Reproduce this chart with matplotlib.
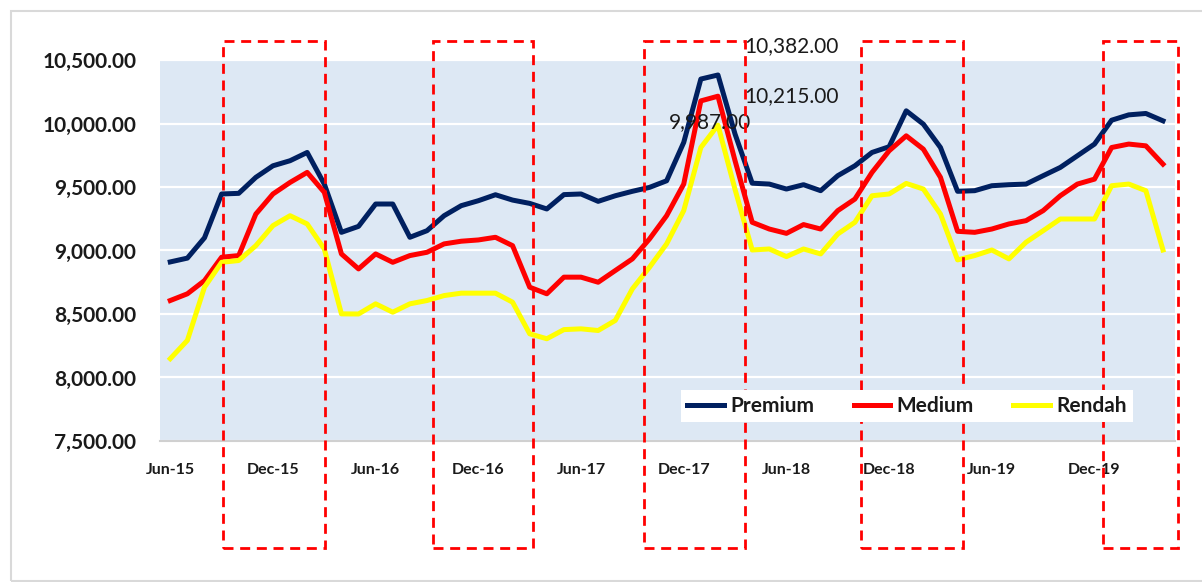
import numpy as np
import matplotlib.pyplot as plt
from matplotlib.patches import Rectangle
import matplotlib.transforms as mtransforms

plt.rcParams['font.family'] = ['Lato', 'DejaVu Sans']

# monthly prices, Jun-15 .. Apr-20
premium = [8910, 8940, 9100, 9445, 9450, 9576, 9667, 9707, 9772, 9523,
           9143, 9190, 9366, 9366, 9104, 9156, 9274, 9353, 9392, 9439,
           9397, 9371, 9327, 9440, 9445, 9387, 9431, 9466, 9497, 9549,
           9851, 10350, 10382, 9916, 9530, 9523, 9484, 9518, 9471, 9589,
           9667, 9772, 9817, 10100, 9995, 9811, 9466, 9471, 9510, 9518,
           9523, 9589, 9654, 9746, 9838, 10026, 10068, 10079, 10021]
medium = [8606, 8659, 8763, 8947, 8960, 9287, 9445, 9536, 9615, 9458,
          8973, 8855, 8973, 8907, 8960, 8986, 9052, 9073, 9083, 9104,
          9038, 8711, 8659, 8790, 8790, 8750, 8842, 8934, 9091, 9274,
          9523, 10178, 10215, 9706, 9222, 9169, 9135, 9204, 9169, 9314,
          9405, 9615, 9785, 9903, 9798, 9576, 9151, 9143, 9169, 9209,
          9235, 9314, 9431, 9523, 9562, 9811, 9838, 9824, 9680]
rendah = [8148, 8292, 8711, 8907, 8921, 9038, 9196, 9274, 9209, 9012,
          8501, 8500, 8580, 8514, 8580, 8606, 8645, 8664, 8664, 8664,
          8593, 8344, 8305, 8377, 8383, 8370, 8449, 8698, 8868, 9052,
          9314, 9811, 9987, 9480, 9004, 9012, 8952, 9012, 8973, 9130,
          9222, 9431, 9445, 9528, 9484, 9287, 8926, 8960, 9004, 8934,
          9065, 9156, 9248, 9248, 9248, 9510, 9523, 9471, 9004]

tick_labels = ['Jun-15', 'Dec-15', 'Jun-16', 'Dec-16', 'Jun-17',
               'Dec-17', 'Jun-18', 'Dec-18', 'Jun-19', 'Dec-19']
# highlighted periods (month index range) around each year end
highlights = [(3.1, 9.05), (15.36, 21.2), (27.7, 33.6), (40.36, 46.3), (54.5, 58.9)]

x = np.arange(len(premium))

fig = plt.figure(figsize=(12.02, 5.82), dpi=100)
ax = fig.add_axes([0.1331, 0.2423, 0.8444, 0.6546])
ax.set_facecolor('#dde8f4')

# light outer frame of the chart
fig.patches.append(Rectangle((11 / 1202, 0.002), 1.2, 1 - 11 / 582 - 0.002,
                             transform=fig.transFigure, fill=False,
                             edgecolor='#d9d9d9', linewidth=1.5))

ax.plot(x, premium, color='#002060', lw=3.6, label='Premium', solid_joinstyle='round')
ax.plot(x, medium, color='#ff0000', lw=3.6, label='Medium', solid_joinstyle='round')
ax.plot(x, rendah, color='#ffff00', lw=3.6, label='Rendah', solid_joinstyle='round')

ax.set_xlim(-0.6, 58.7)
ax.set_ylim(7500, 10500)
ax.set_yticks(np.arange(7500, 10501, 500))
ax.yaxis.set_major_formatter(plt.FuncFormatter(lambda v, p: f'{v:,.2f}'))
ax.set_xticks(x[::6])
ax.set_xticklabels(tick_labels)
ax.grid(axis='y', color='white', lw=1.6)
ax.set_axisbelow(True)
ax.tick_params(length=0)
ax.tick_params(axis='y', pad=17, labelsize=15, labelcolor='#1a1a1a')
ax.tick_params(axis='x', pad=16, labelsize=11.5, labelcolor='#1a1a1a')
for lab in ax.get_yticklabels() + ax.get_xticklabels():
    lab.set_fontweight('bold')
for side in ['top', 'left', 'right']:
    ax.spines[side].set_visible(False)
ax.spines['bottom'].set_color('#d0d0d0')
ax.spines['bottom'].set_linewidth(1.5)

# value labels at the early 2018 peak
peak = int(np.argmax(premium))
for series, off in [(premium, (19, 21)), (medium, (19, 0)), (rendah, (-35, 2))]:
    ax.annotate(f'{series[peak]:,.2f}', xy=(peak, series[peak]), xytext=off,
                textcoords='offset points', fontsize=15, color='#1a1a1a',
                ha='left', va='center', annotation_clip=False)

trans = mtransforms.blended_transform_factory(ax.transData, ax.transAxes)
for x0, x1 in highlights:
    ax.add_patch(Rectangle((x0, -0.28), x1 - x0, 1.33, transform=trans,
                           fill=False, edgecolor='#ff0000', lw=2.0,
                           linestyle=(0, (3.6, 2.4)), clip_on=False, zorder=5))

leg = ax.legend(loc='center', bbox_to_anchor=(0.736, 0.092), ncol=3,
                fontsize=15, handlelength=1.75, handletextpad=0.3,
                columnspacing=1.9, fancybox=False, framealpha=1,
                edgecolor='none', facecolor='white', borderpad=0.3)
for t in leg.get_texts():
    t.set_fontweight('bold')
    t.set_color('#1a1a1a')

fig.savefig('out.png', dpi=100)
